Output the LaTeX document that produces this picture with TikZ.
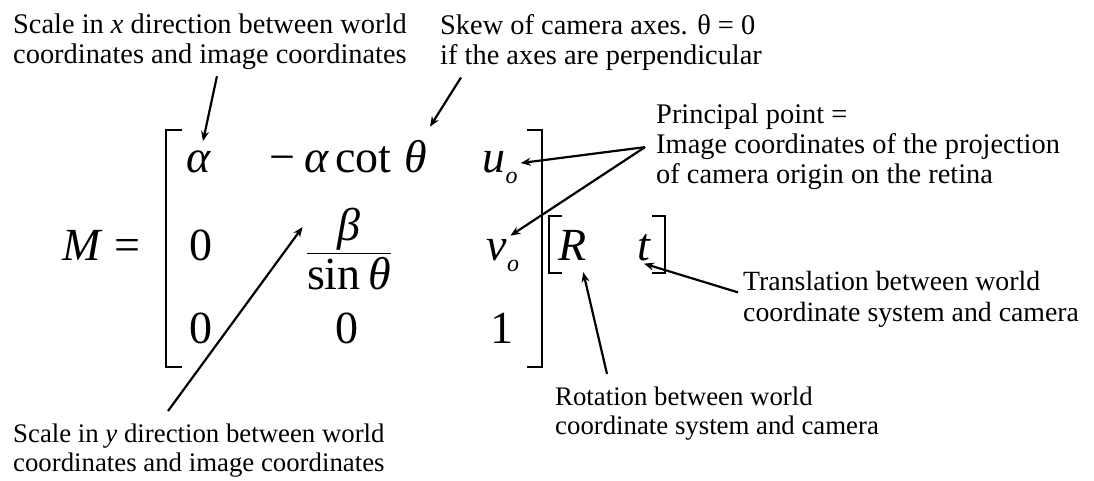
\documentclass[tikz,border=0pt]{standalone}
\usepackage{amsmath}
\usepackage{fontspec}
\setmainfont{Liberation Serif}
\usepackage{tikz}
\usetikzlibrary{arrows.meta, positioning}
\newcommand{\lowidx}[1]{\raisebox{-11pt}{\fontsize{24}{24}\selectfont\itshape #1}}

\begin{document}
\begin{tikzpicture}[x=1pt, y=-1pt,
        note/.style={anchor=north west, align=left, inner sep=0pt, font=\fontsize{28.4}{30}\selectfont},
        smallnote/.style={note, font=\fontsize{26.8}{29}\selectfont},
        entry/.style={anchor=base, inner sep=3pt, font=\fontsize{46}{50}\selectfont},
        pointer/.style={-{Stealth[length=10pt, width=8pt]}, line width=2.2pt},
        brk/.style={line width=1.7pt}]
        \useasboundingbox (0,0) rectangle (1094,480);
        % matrix entries
        \node[entry, anchor=base west] (Meq) at (59,260) {\textit{M} =};
        \node[entry] (alpha) at (199,172) {\textit{α}};
        \node[entry] (skewel) at (348,172) {−\hspace{9pt}\textit{α}\hspace{6pt}cot\hspace{13pt}\textit{θ}};
        \node[entry] (uo) at (500,172) {\textit{u}\lowidx{o}};
        \node[entry] (zeroa) at (201,260) {0};
        \node[entry] (frac) at (349,260) {$\displaystyle\frac{\textit{β}}{\text{sin\,\textit{θ}}}$};
        \node[entry] (vo) at (503,260) {\textit{v}\lowidx{o}};
        \node[entry] (zerob) at (201,343) {0};
        \node[entry] (zeroc) at (347,343) {0};
        \node[entry] (one) at (502,343) {1};
        \node[entry] (rmat) at (573,260) {\textit{R}};
        \node[entry] (tvec) at (644,260) {\textit{t}};
        % brackets
        \draw[brk] (182,130) -- (166,130) -- (166,367) -- (182,367);
        \draw[brk] (527,130) -- (542,130) -- (542,367) -- (527,367);
        \draw[brk] (562,216) -- (549,216) -- (549,273) -- (562,273);
        \draw[brk] (652,216) -- (665,216) -- (665,273) -- (652,273);
        % notes
        \node[note] (xscale) at (13,14) {Scale in \textit{x} direction between world\\coordinates and image coordinates};
        \node[note] (skew) at (440,14) {Skew of camera axes. θ = 0\\if the axes are perpendicular};
        \node[note] (ppoint) at (656,104) {Principal point =\\Image coordinates of the projection\\of camera origin on the retina};
        \node[note, font=\fontsize{27.8}{31}\selectfont] (transl) at (743,271) {Translation between world\\coordinate system and camera};
        \node[smallnote] (rot) at (555,387) {Rotation between world\\coordinate system and camera};
        \node[smallnote] (yscale) at (13,424) {Scale in \textit{y} direction between world\\coordinates and image coordinates};
        % pointers
        \draw[pointer] ([xshift=7pt, yshift=-6pt]xscale.south) -- ([xshift=4pt, yshift=6pt]alpha.north);
        \draw[pointer] ([xshift=21pt, yshift=-7pt]skew.south west) -- ([yshift=10pt]skewel.north east);
        \coordinate (apex) at ([xshift=-11pt]ppoint.west);
        \draw[pointer] (apex) -- ([yshift=4pt]uo.east);
        \draw[pointer] (apex) -- ([xshift=-12pt]vo.north east);
        \draw[pointer] ([xshift=-5pt, yshift=7pt]transl.west) -- (tvec.south);
        \draw[pointer] ([xshift=52pt, yshift=13pt]rot.north west) -- ([xshift=-7pt, yshift=-9pt]rmat.south east);
        \draw[pointer] ([xshift=155pt, yshift=13pt]yscale.north west) -- ([yshift=22pt]frac.west);
\end{tikzpicture}
\end{document}
